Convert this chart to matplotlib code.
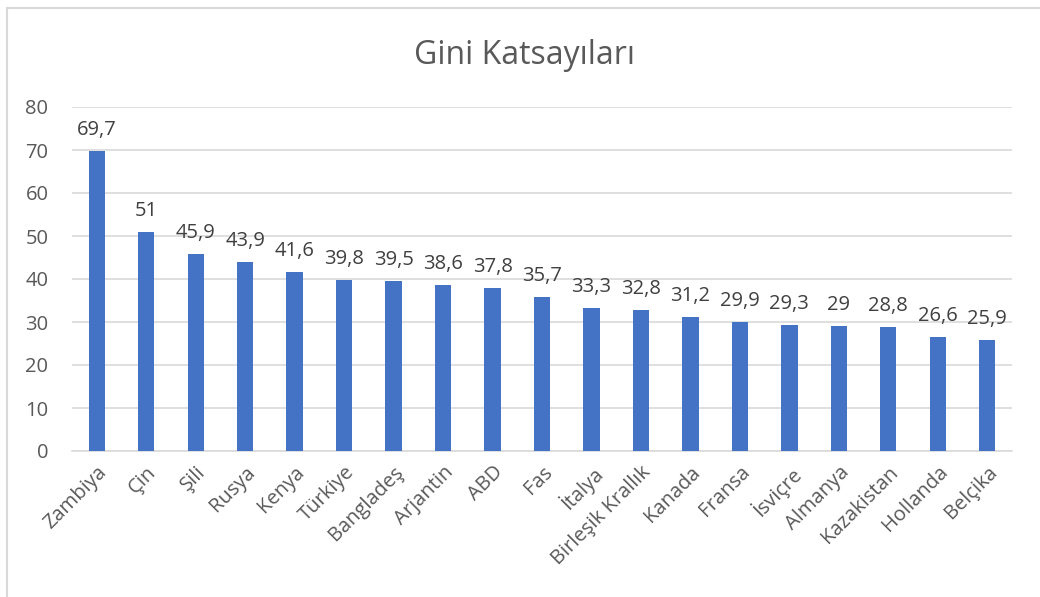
import matplotlib.pyplot as plt
from matplotlib.patches import Rectangle

# veriler
ulkeler = ["Zambiya", "Çin", "Şili", "Rusya", "Kenya", "Türkiye", "Bangladeş",
           "Arjantin", "ABD", "Fas", "İtalya", "Birleşik Krallık", "Kanada",
           "Fransa", "İsviçre", "Almanya", "Kazakistan", "Hollanda", "Belçika"]
gini = [69.7, 51, 45.9, 43.9, 41.6, 39.8, 39.5, 38.6, 37.8, 35.7, 33.3,
        32.8, 31.2, 29.9, 29.3, 29, 28.8, 26.6, 25.9]
y_ticks = [0, 10, 20, 30, 40, 50, 60, 70, 80]

plt.rcParams["font.family"] = ["Open Sans", "DejaVu Sans"]

W, H = 1040, 597
fig = plt.figure(figsize=(W / 100, H / 100), dpi=100)

# grafik cercevesi
fig.patches.append(Rectangle((7 / W, -0.1), 1.1, 1 - 8 / H + 0.1,
                             transform=fig.transFigure, fill=False,
                             edgecolor="#D9D9D9", linewidth=1.5))

ax = fig.add_axes([72 / W, 1 - 451 / H, 940 / W, (451 - 107) / H])
x = range(len(ulkeler))
bars = ax.bar(x, gini, width=0.33, color="#4472C4", zorder=3)

ax.set_xlim(-0.5, len(ulkeler) - 0.5)
ax.set_ylim(0, 80)
ax.set_yticks(y_ticks)
ax.set_yticklabels([str(t) for t in y_ticks])
ax.grid(axis="y", color="#D9D9D9", linewidth=1.2, zorder=0)
for s in ["top", "right", "left"]:
    ax.spines[s].set_visible(False)
ax.spines["bottom"].set_color("#D9D9D9")
ax.spines["bottom"].set_linewidth(1.2)
ax.tick_params(axis="both", length=0, labelsize=14.5, colors="#595959")
ax.tick_params(axis="y", pad=17)

ax.set_xticks(list(x))
ax.set_xticklabels(ulkeler, rotation=45, ha="right", va="top",
                   rotation_mode="anchor")
ax.tick_params(axis="x", pad=8)

for b, v in zip(bars, gini):
    etiket = f"{v:g}".replace(".", ",")
    ax.annotate(etiket, (b.get_x() + b.get_width() / 2, v),
                xytext=(0, 8), textcoords="offset points",
                ha="center", va="bottom", fontsize=14.5, color="#404040")

fig.text(525 / W, 1 - 55 / H, "Gini Katsayıları", ha="center", va="center",
         fontsize=23, color="#595959")

fig.savefig("out.png", dpi=100)
